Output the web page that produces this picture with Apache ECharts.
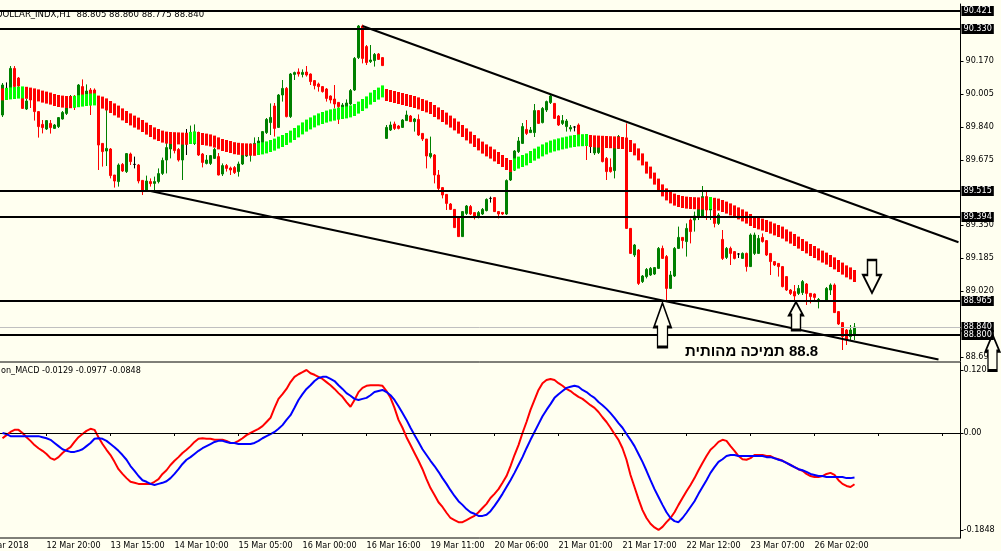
<!DOCTYPE html>
<html>
<head>
<meta charset="utf-8">
<script src="https://cdn.jsdelivr.net/npm/echarts@6/dist/echarts.min.js"></script>
<style>
html,body{margin:0;padding:0;background:#fffff0;}
#c{width:1001px;height:551px;}
</style>
</head>
<body>
<div id="c"></div>
<script>
// ---------------- DATA ----------------
const tickLabels = ['9 Mar 2018','12 Mar 20:00','13 Mar 15:00','14 Mar 10:00','15 Mar 05:00','16 Mar 00:00','16 Mar 16:00','19 Mar 11:00','20 Mar 06:00','21 Mar 01:00','21 Mar 17:00','22 Mar 12:00','23 Mar 07:00','26 Mar 02:00'];
const SLOTS = 245;          // hourly slots on the time axis
const FIRST_BAR = 5;        // slot of the first visible candle
const LABEL_EVERY = 16;

// candles: [open, high, low, close]
const candles = [
[89.90,90.06,89.89,90.05],[90.033,90.063,90.025,90.033],[90.033,90.145,90.03,90.133],[90.133,90.145,90.03,90.042],[90.085,90.09,90.035,90.045],
[90.0,90.03,89.93,89.933],[89.93,89.98,89.925,89.97],[89.983,89.99,89.935,89.975],[89.975,89.98,89.872,89.917],[89.917,89.92,89.787,89.842],
[89.853,89.875,89.808,89.837],[89.83,89.875,89.825,89.872],[89.858,89.875,89.807,89.837],[89.833,89.855,89.83,89.85],[89.842,89.89,89.835,89.887],
[89.88,89.92,89.877,89.913],[89.908,89.955,89.9,89.95],[89.95,90.0,89.945,89.992],[89.99,90.0,89.925,89.965],[89.965,90.055,89.96,90.05],
[90.042,90.078,89.975,89.983],[89.983,90.053,89.98,90.02],[90.025,90.035,89.9,89.967],[90.025,90.033,89.99,90.0],[89.958,89.96,89.625,89.75],
[89.758,89.76,89.642,89.717],[89.72,89.933,89.645,89.733],[89.73,89.735,89.583,89.597],[89.6,89.6,89.537,89.57],[89.567,89.658,89.542,89.65],
[89.653,89.66,89.615,89.62],[89.617,89.71,89.61,89.707],[89.705,89.712,89.65,89.667],[89.653,89.692,89.633,89.653],[89.65,89.655,89.558,89.57],
[89.573,89.575,89.5,89.517],[89.525,89.597,89.517,89.57],[89.567,89.583,89.542,89.557],[89.558,89.592,89.517,89.567],[89.567,89.633,89.558,89.607],
[89.608,89.687,89.6,89.673],[89.675,89.763,89.608,89.737],[89.73,89.8,89.683,89.763],[89.763,89.77,89.708,89.722],[89.728,89.735,89.667,89.675],
[89.675,89.775,89.575,89.758],[89.79,89.83,89.7,89.79],[89.767,89.847,89.76,89.813],[89.758,89.853,89.75,89.8],[89.758,89.817,89.695,89.7],
[89.705,89.71,89.638,89.663],[89.658,89.7,89.653,89.675],[89.658,89.7,89.65,89.697],[89.683,89.735,89.68,89.728],[89.692,89.71,89.598,89.6],
[89.605,89.658,89.595,89.647],[89.647,89.655,89.617,89.633],[89.635,89.642,89.6,89.625],[89.637,89.645,89.605,89.612],[89.617,89.667,89.592,89.655],
[89.655,89.725,89.65,89.712],[89.695,89.72,89.69,89.712],[89.7,89.758,89.667,89.71],[89.717,89.788,89.71,89.758],[89.74,89.79,89.73,89.77],
[89.762,89.82,89.755,89.817],[89.812,89.885,89.805,89.878],[89.862,89.958,89.8,89.888],[89.945,89.96,89.792,89.833],[89.838,90.005,89.835,90.0],
[90.0,90.075,89.967,90.033],[90.033,90.04,89.888,89.892],[89.892,90.11,89.885,90.105],[90.103,90.117,90.075,90.112],[90.115,90.133,90.092,90.105],
[90.103,90.128,90.088,90.113],[90.115,90.145,90.092,90.1],[90.105,90.108,90.05,90.067],[90.072,90.075,90.028,90.047],[90.055,90.062,90.017,90.042],
[90.042,90.045,90.012,90.017],[90.03,90.035,89.967,89.983],[89.995,89.998,89.958,89.975],[89.98,90.05,89.933,89.955],[89.963,89.965,89.855,89.942],
[89.94,89.96,89.93,89.95],[89.93,89.978,89.925,89.96],[89.955,90.03,89.95,90.022],[90.025,90.19,90.02,90.183],[90.187,90.35,90.18,90.345],
[90.345,90.352,90.158,90.183],[90.242,90.25,90.15,90.162],[90.167,90.25,90.16,90.175],[90.172,90.21,90.142,90.203],[90.205,90.21,90.175,90.178],
[90.187,90.19,90.145,90.147],[89.783,89.85,89.78,89.838],[89.825,89.867,89.82,89.85],[89.855,89.867,89.825,89.833],[89.845,89.85,89.828,89.833],
[89.838,89.88,89.835,89.875],[89.872,89.922,89.87,89.9],[89.895,89.9,89.865,89.867],[89.867,89.885,89.817,89.88],[89.878,89.903,89.795,89.8],
[89.808,89.81,89.77,89.78],[89.78,89.78,89.633,89.695],[89.692,89.792,89.683,89.708],[89.7,89.705,89.558,89.6],[89.6,89.625,89.525,89.533],
[89.537,89.54,89.483,89.5],[89.503,89.505,89.425,89.458],[89.455,89.46,89.425,89.428],[89.428,89.43,89.335,89.337],[89.392,89.395,89.29,89.292],
[89.292,89.42,89.29,89.417],[89.408,89.45,89.4,89.445],[89.442,89.45,89.4,89.405],[89.412,89.415,89.378,89.395],[89.395,89.42,89.383,89.412],
[89.405,89.435,89.4,89.428],[89.422,89.483,89.418,89.478],[89.483,89.492,89.462,89.483],[89.487,89.49,89.415,89.417],[89.417,89.42,89.383,89.405],
[89.413,89.415,89.4,89.405],[89.405,89.578,89.4,89.572],[89.575,89.63,89.57,89.628],[89.625,89.725,89.62,89.72],[89.717,89.79,89.71,89.77],
[89.758,89.86,89.755,89.842],[89.828,89.875,89.8,89.808],[89.812,89.84,89.81,89.825],[89.812,89.955,89.79,89.922],[89.922,89.925,89.855,89.858],
[89.862,89.94,89.858,89.933],[89.925,89.972,89.915,89.967],[89.962,90.0,89.955,89.995],[89.958,89.96,89.88,89.883],[89.895,89.9,89.845,89.85],
[89.858,89.9,89.85,89.872],[89.842,89.88,89.817,89.87],[89.83,89.85,89.817,89.838],[89.84,89.845,89.818,89.84],[89.85,89.858,89.795,89.8],
[89.79,89.79,89.75,89.77],[89.78,89.8,89.675,89.765],[89.745,89.77,89.71,89.745],[89.71,89.75,89.7,89.745],[89.712,89.755,89.705,89.745],
[89.738,89.742,89.663,89.667],[89.683,89.69,89.575,89.617],[89.638,89.683,89.612,89.617],[89.622,89.79,89.583,89.783],[89.733,89.8,89.73,89.792],
[89.783,89.785,89.73,89.733],[89.783,89.858,89.33,89.333],[89.333,89.335,89.205,89.208],[89.2,89.255,89.19,89.25],[89.225,89.23,89.05,89.058],
[89.067,89.1,89.06,89.095],[89.092,89.135,89.083,89.128],[89.1,89.14,89.095,89.133],[89.105,89.14,89.1,89.137],[89.133,89.24,89.13,89.233],
[89.233,89.247,89.18,89.183],[89.192,89.2,88.975,89.033],[89.033,89.12,89.03,89.1],[89.095,89.24,89.09,89.233],[89.233,89.342,89.23,89.288],
[89.288,89.29,89.233,89.272],[89.267,89.358,89.192,89.333],[89.375,89.383,89.258,89.317],[89.375,89.417,89.317,89.395],[89.392,89.46,89.375,89.442],
[89.395,89.545,89.39,89.492],[89.492,89.525,89.375,89.425],[89.425,89.47,89.375,89.45],[89.425,89.43,89.338,89.358],[89.358,89.41,89.35,89.4],
[89.278,89.325,89.175,89.183],[89.188,89.24,89.18,89.233],[89.233,89.242,89.15,89.208],[89.217,89.22,89.178,89.183],[89.205,89.21,89.185,89.205],
[89.183,89.213,89.18,89.208],[89.208,89.212,89.117,89.142],[89.142,89.308,89.14,89.3],[89.208,89.312,89.2,89.3],[89.208,89.3,89.205,89.283],
[89.288,89.308,89.262,89.267],[89.272,89.275,89.195,89.2],[89.208,89.21,89.1,89.167],[89.167,89.17,89.145,89.15],[89.158,89.16,89.092,89.142],
[89.142,89.145,89.038,89.042],[89.092,89.095,89.02,89.025],[89.025,89.03,89.0,89.008],[89.017,89.05,88.975,88.995],[89.008,89.05,89.0,89.033],
[89.012,89.075,89.0,89.067],[89.055,89.06,88.95,89.008],[89.008,89.01,88.958,88.992],[89.005,89.008,88.975,88.988],[88.967,88.985,88.933,88.978],
[88.97,88.975,88.965,88.97],[88.975,89.04,88.97,89.033],[89.025,89.058,89.0,89.05],[89.05,89.058,88.91,88.912],[88.917,88.92,88.85,88.855],
[88.862,88.865,88.725,88.792],[88.825,88.83,88.75,88.775],[88.792,88.85,88.775,88.825],[88.805,88.86,88.775,88.84]
];

// upper edge of the moving-average ribbon, one value per candle
const ribbonTop = [
90.033,90.035,90.038,90.040,90.042,90.043,90.041,90.037,90.033,90.028,
90.022,90.017,90.012,90.005,90.000,89.997,89.995,89.994,89.996,89.999,
90.002,90.005,90.007,90.008,89.997,89.992,89.983,89.970,89.958,89.947,
89.933,89.920,89.908,89.897,89.887,89.875,89.862,89.850,89.838,89.830,
89.822,89.817,89.815,89.814,89.813,89.812,89.811,89.815,89.818,89.815,
89.810,89.807,89.803,89.797,89.788,89.780,89.775,89.770,89.764,89.761,
89.759,89.758,89.757,89.756,89.760,89.763,89.768,89.775,89.782,89.792,
89.800,89.810,89.822,89.835,89.848,89.863,89.877,89.888,89.898,89.908,
89.915,89.922,89.928,89.932,89.937,89.940,89.943,89.948,89.955,89.967,
89.980,89.993,90.012,90.025,90.037,90.048,90.030,90.025,90.020,90.015,
90.010,90.005,90.000,89.995,89.988,89.980,89.973,89.965,89.950,89.938,
89.925,89.912,89.897,89.883,89.867,89.850,89.833,89.817,89.800,89.783,
89.767,89.753,89.742,89.728,89.715,89.700,89.685,89.675,89.683,89.692,
89.700,89.708,89.720,89.732,89.742,89.753,89.763,89.772,89.778,89.783,
89.788,89.792,89.797,89.800,89.803,89.804,89.805,89.800,89.798,89.797,
89.796,89.795,89.794,89.793,89.792,89.790,89.787,89.775,89.758,89.733,
89.708,89.667,89.642,89.612,89.582,89.553,89.533,89.518,89.507,89.500,
89.495,89.492,89.490,89.489,89.488,89.487,89.486,89.490,89.486,89.482,
89.475,89.467,89.458,89.448,89.438,89.428,89.417,89.405,89.395,89.388,
89.382,89.375,89.367,89.358,89.350,89.342,89.328,89.317,89.305,89.292,
89.280,89.268,89.255,89.245,89.233,89.222,89.212,89.200,89.188,89.175,
89.162,89.148,89.138,89.125
];

// MACD pane: red (main) and blue (signal)
const macdMain = [
-0.010,-0.004,0.002,0.006,0.006,0.000,-0.008,-0.015,-0.023,-0.029,
-0.034,-0.040,-0.048,-0.051,-0.046,-0.038,-0.032,-0.027,-0.017,-0.008,
-0.002,0.004,0.008,0.006,-0.008,-0.021,-0.032,-0.042,-0.055,-0.069,
-0.078,-0.086,-0.093,-0.095,-0.097,-0.097,-0.097,-0.097,-0.093,-0.088,
-0.078,-0.071,-0.061,-0.053,-0.046,-0.038,-0.032,-0.025,-0.017,-0.011,
-0.010,-0.011,-0.011,-0.013,-0.013,-0.013,-0.015,-0.019,-0.019,-0.015,
-0.010,-0.004,0.000,0.004,0.008,0.013,0.021,0.029,0.048,0.065,
0.074,0.084,0.097,0.107,0.112,0.116,0.1201,0.114,0.111,0.107,
0.103,0.097,0.091,0.084,0.076,0.069,0.059,0.050,0.063,0.078,
0.086,0.090,0.091,0.091,0.091,0.090,0.080,0.067,0.048,0.025,
0.010,-0.008,-0.023,-0.038,-0.053,-0.069,-0.088,-0.105,-0.118,-0.132,
-0.141,-0.152,-0.162,-0.166,-0.170,-0.170,-0.166,-0.162,-0.158,-0.151,
-0.143,-0.135,-0.124,-0.116,-0.107,-0.095,-0.082,-0.063,-0.042,-0.023,
0.000,0.021,0.044,0.063,0.082,0.095,0.101,0.103,0.101,0.095,
0.090,0.084,0.080,0.074,0.069,0.065,0.059,0.053,0.048,0.040,
0.030,0.021,0.010,-0.002,-0.013,-0.029,-0.051,-0.080,-0.103,-0.126,
-0.147,-0.162,-0.173,-0.180,-0.1848,-0.179,-0.170,-0.162,-0.151,-0.137,
-0.124,-0.111,-0.099,-0.086,-0.071,-0.057,-0.044,-0.032,-0.025,-0.017,
-0.013,-0.015,-0.025,-0.034,-0.044,-0.050,-0.051,-0.048,-0.042,-0.042,
-0.042,-0.044,-0.044,-0.048,-0.050,-0.053,-0.057,-0.061,-0.065,-0.069,
-0.072,-0.078,-0.082,-0.084,-0.084,-0.082,-0.078,-0.076,-0.080,-0.090,
-0.097,-0.101,-0.103,-0.0977
];
const macdSignal = [
0.000,-0.002,-0.006,-0.006,-0.006,-0.006,-0.006,-0.006,-0.006,-0.006,
-0.008,-0.010,-0.013,-0.019,-0.025,-0.031,-0.034,-0.036,-0.036,-0.034,
-0.031,-0.025,-0.019,-0.011,-0.010,-0.011,-0.015,-0.021,-0.027,-0.034,
-0.042,-0.051,-0.063,-0.072,-0.082,-0.090,-0.093,-0.097,-0.099,-0.097,
-0.095,-0.092,-0.086,-0.078,-0.069,-0.059,-0.051,-0.046,-0.040,-0.034,
-0.029,-0.025,-0.021,-0.017,-0.015,-0.015,-0.017,-0.019,-0.019,-0.021,
-0.021,-0.021,-0.021,-0.019,-0.015,-0.010,-0.006,-0.002,0.002,0.008,
0.015,0.025,0.034,0.048,0.063,0.074,0.084,0.091,0.099,0.105,
0.107,0.107,0.103,0.099,0.091,0.084,0.076,0.071,0.065,0.063,
0.065,0.067,0.072,0.078,0.080,0.082,0.078,0.072,0.063,0.051,
0.038,0.025,0.010,-0.004,-0.017,-0.031,-0.042,-0.053,-0.063,-0.074,
-0.086,-0.097,-0.109,-0.120,-0.130,-0.137,-0.145,-0.151,-0.154,-0.158,
-0.158,-0.156,-0.149,-0.139,-0.128,-0.116,-0.103,-0.090,-0.076,-0.061,
-0.046,-0.029,-0.013,0.002,0.017,0.032,0.044,0.055,0.067,0.074,
0.080,0.086,0.088,0.090,0.088,0.082,0.078,0.072,0.067,0.059,
0.053,0.046,0.038,0.029,0.019,0.010,-0.002,-0.013,-0.025,-0.040,
-0.055,-0.072,-0.090,-0.107,-0.122,-0.137,-0.151,-0.162,-0.168,-0.170,
-0.162,-0.152,-0.141,-0.130,-0.116,-0.103,-0.090,-0.076,-0.065,-0.055,
-0.050,-0.044,-0.042,-0.042,-0.044,-0.044,-0.044,-0.044,-0.044,-0.044,
-0.044,-0.046,-0.046,-0.048,-0.051,-0.053,-0.057,-0.061,-0.065,-0.069,
-0.071,-0.074,-0.078,-0.080,-0.082,-0.082,-0.084,-0.084,-0.084,-0.084,
-0.084,-0.086,-0.086,-0.0848
];

const levels = [90.421, 90.330, 89.515, 89.394, 88.965, 88.800];  // horizontal lines
const bidPrice = 88.840;
const priceTicks = [88.690, 89.020, 89.185, 89.350, 89.675, 89.840, 90.005, 90.170];
const macdTicks = [-0.1848, 0, 0.1201];
// trend lines: [slot, price] pairs
const upperTrend = [[95, 90.345], [244, 89.264]];
const lowerTrend = [[42, 89.520], [239, 88.677]];
// arrows: [slot, price]
const arrowsUp = [[170, 88.850], [203, 88.895]];
const arrowsDown = [[222, 89.0925]];
const arrowEdge = [244, 88.7125];

const headerText = 'DOLLAR_INDX,H1  88.805 88.860 88.775 88.840';
const macdText = 'on_MACD -0.0129 -0.0977 -0.0848';
const noteText = 'תמיכה מהותית \u200E88.8';

// ---------------- BUILD ----------------
const BG = '#fffff0';
const FONT = "'DejaVu Sans Condensed', 'Liberation Sans', sans-serif";
const RIBBON_DEPTH = 0.06;
const slots = Array.from({length: SLOTS}, (_, i) => String(i));
const padLead = arr => Array(FIRST_BAR).fill('-').concat(arr);

const candleData = padLead(candles.map(c => [c[0], c[3], c[2], c[1]]));
const ribbonData = ribbonTop.map((v, k) => [FIRST_BAR + k, v, k > 0 && v > ribbonTop[k - 1] ? 1 : 0]);

const upTall = 'path://M8.5,0 L17,24 L13.5,24 L13.5,44 L3.5,44 L3.5,24 L0,24 Z';
const upShort = 'path://M7,0 L14,13 L11.5,13 L11.5,28 L2.5,28 L2.5,13 L0,13 Z';
const downShort = 'path://M4.5,0 L13.5,0 L13.5,15 L18,15 L9,33 L0,15 L4.5,15 Z';
const arrowStyle = {color: BG, borderColor: '#000', borderWidth: 2};

const boxLabel = {
  show: true, position: 'end', distance: 1, color: '#fff', backgroundColor: '#000',
  padding: [1, 2, 0, 2], fontFamily: FONT, fontSize: 9,
  formatter: p => p.name
};

const chart = echarts.init(document.getElementById('c'), null, {renderer: 'canvas'});
chart.setOption({
  animation: false,
  backgroundColor: BG,
  title: [
    {text: headerText, left: -4, top: 10, padding: 0,
     textStyle: {fontFamily: FONT, fontSize: 9.5, fontWeight: 'normal', color: '#000'}},
    {text: macdText, left: 1, top: 366, padding: 0,
     textStyle: {fontFamily: FONT, fontSize: 9, fontWeight: 'normal', color: '#000'}},
    {text: noteText, left: 685, top: 344, padding: 0,
     textStyle: {fontFamily: "'Liberation Sans', 'DejaVu Sans', sans-serif", fontSize: 15, fontWeight: 'bold', color: '#000'}}
  ],
  grid: [
    {left: -19.5, right: 40.5, top: 4, height: 357, show: false, outerBoundsMode: 'none', containLabel: false},
    {left: -19.5, right: 40.5, top: 362, height: 176, show: true, borderColor: '#000', borderWidth: 1,
     backgroundColor: 'transparent', outerBoundsMode: 'none', containLabel: false}
  ],
  xAxis: [
    {type: 'category', gridIndex: 0, data: slots, boundaryGap: true,
     axisLine: {show: false}, axisTick: {show: false}, axisLabel: {show: false}, splitLine: {show: false}},
    {type: 'category', gridIndex: 1, data: slots, boundaryGap: true,
     axisLine: {show: true, lineStyle: {color: '#000', width: 1}},
     axisTick: {show: true, interval: LABEL_EVERY - 1, alignWithLabel: true, length: 3, lineStyle: {color: '#000'}},
     axisLabel: {show: true, interval: LABEL_EVERY - 1, align: 'left', margin: 3, color: '#000',
       fontFamily: FONT, fontSize: 9, hideOverlap: false,
       formatter: (v, idx) => tickLabels[idx / LABEL_EVERY] || ''},
     splitLine: {show: false}}
  ],
  yAxis: [
    {type: 'value', gridIndex: 0, position: 'right', min: 88.67, max: 90.455,
     axisLine: {show: true, lineStyle: {color: '#000'}},
     axisTick: {show: true, length: 3, customValues: priceTicks, lineStyle: {color: '#000'}},
     axisLabel: {show: true, customValues: priceTicks, margin: 5, color: '#000', fontFamily: FONT, fontSize: 9,
       formatter: v => v.toFixed(3)},
     splitLine: {show: false}},
    {type: 'value', gridIndex: 1, position: 'right', min: -0.20015, max: 0.13534,
     axisLine: {show: true, lineStyle: {color: '#000'}},
     axisTick: {show: true, length: 3, customValues: macdTicks, lineStyle: {color: '#000'}},
     axisLabel: {show: true, customValues: macdTicks, margin: 3, color: '#000', fontFamily: FONT, fontSize: 9,
       formatter: v => v === 0 ? '0.00' : v.toFixed(4)},
     splitLine: {show: false}}
  ],
  series: [
    {type: 'candlestick', xAxisIndex: 0, yAxisIndex: 0, data: candleData, barWidth: 2, z: 2,
     itemStyle: {color: '#008000', color0: '#ff0000', borderColor: '#008000', borderColor0: '#ff0000',
       borderColorDoji: '#000', borderWidth: 1}},
    {type: 'custom', xAxisIndex: 0, yAxisIndex: 0, data: ribbonData, z: 3,
     encode: {x: 0, y: 1},
     renderItem: (params, api) => {
       const top = api.coord([api.value(0), api.value(1)]);
       const bot = api.coord([api.value(0), api.value(1) - RIBBON_DEPTH]);
       return {type: 'rect',
         shape: {x: top[0] - 1.5, y: top[1], width: 3, height: bot[1] - top[1]},
         style: {fill: api.value(2) ? '#00ff00' : '#ff0000'}};
     }},
    {type: 'line', xAxisIndex: 0, yAxisIndex: 0, data: [], z: 5, silent: true,
     markLine: {
       silent: true, symbol: ['none', 'none'], animation: false,
       data: [
         {yAxis: bidPrice, name: bidPrice.toFixed(3), lineStyle: {color: '#c0c0c0', width: 1, type: 'solid'}, label: boxLabel},
         ...levels.map(v => ({yAxis: v, name: v.toFixed(3), lineStyle: {color: '#000', width: 2, type: 'solid'}, label: boxLabel})),
         [{coord: upperTrend[0]}, {coord: upperTrend[1], lineStyle: {color: '#000', width: 2, type: 'solid'}, label: {show: false}}],
         [{coord: lowerTrend[0]}, {coord: lowerTrend[1], lineStyle: {color: '#000', width: 2, type: 'solid'}, label: {show: false}}]
       ]
     },
     markPoint: {
       silent: true, animation: false, label: {show: false},
       data: [
         {coord: arrowsUp[0], symbol: upTall, symbolSize: [17, 44], itemStyle: arrowStyle},
         {coord: arrowsUp[1], symbol: upShort, symbolSize: [14, 28], itemStyle: arrowStyle, symbolOffset: [1.5, 0]},
         {coord: arrowsDown[0], symbol: downShort, symbolSize: [18, 33], itemStyle: arrowStyle, symbolOffset: [1.5, 0]},
         {coord: arrowEdge, symbol: upShort, symbolSize: [14, 36], itemStyle: arrowStyle, symbolOffset: [34, 0]}
       ]
     }},
    {type: 'line', xAxisIndex: 1, yAxisIndex: 1, data: padLead(macdMain), showSymbol: false, z: 3,
     lineStyle: {color: '#ff0000', width: 2}, itemStyle: {color: '#ff0000'},
     markLine: {silent: true, symbol: ['none', 'none'], label: {show: false},
       data: [{yAxis: 0, lineStyle: {color: '#000', width: 1, type: [3, 3]}}]}},
    {type: 'line', xAxisIndex: 1, yAxisIndex: 1, data: padLead(macdSignal), showSymbol: false, z: 4,
     lineStyle: {color: '#0000ff', width: 2}, itemStyle: {color: '#0000ff'}}
  ]
});
</script>
</body>
</html>
